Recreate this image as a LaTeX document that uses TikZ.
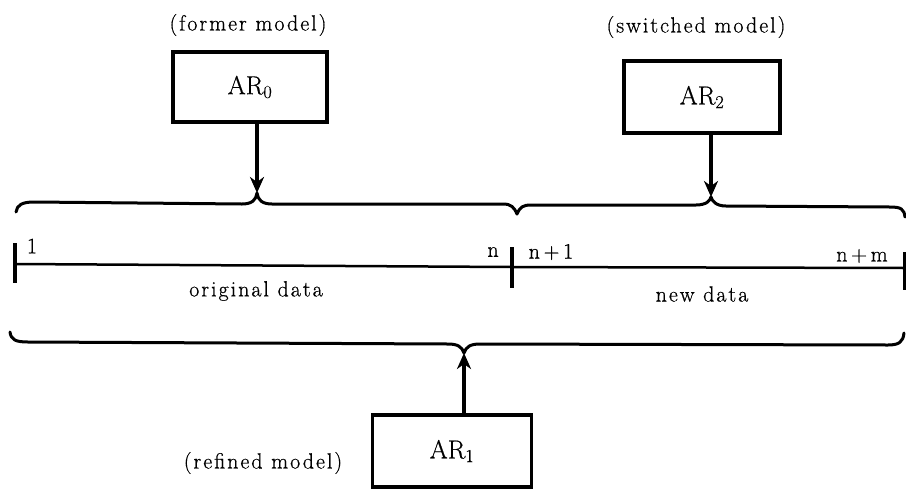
\documentclass[tikz,border=0pt]{standalone}
\usepackage{fontspec}
\usetikzlibrary{arrows.meta}
\newfontfamily\spacedfont[LetterSpace=9,FakeBold=0.6]{Latin Modern Roman}
\newfontfamily\boxfont[FakeBold=0.6]{Latin Modern Roman}
\begin{document}
\begin{tikzpicture}[x=1pt,y=-1pt,
  lbl/.style={font=\spacedfont\fontsize{22}{24}\selectfont, inner sep=0pt},
  arbox/.style={draw, line width=3.5pt, minimum width=154pt, minimum height=70pt, font=\boxfont\fontsize{26}{28}\selectfont, inner sep=0pt},
  brace/.style={line width=3pt, line cap=round, line join=round},
  feed/.style={line width=3.5pt, -{Stealth[length=16pt,width=14pt,inset=5pt]}},
  tick/.style={line width=3.5pt},
  dline/.style={line width=2.5pt}]
\useasboundingbox (0,0) rectangle (906,491);
% boxes
\node[arbox] (b0) at (250,87) {AR\textsubscript{0}};
\node[arbox, minimum width=156pt, minimum height=72pt] (b2) at (702,97) {AR\textsubscript{2}};
\node[arbox, minimum width=159pt, minimum height=72pt] (b1) at (452,451) {AR\textsubscript{1}};
% model labels
\node[lbl] (t0) at (248,25) {(former model)};
\node[lbl] (t2) at (696,27) {(switched model)};
\node[lbl] (t1) at (263,463) {(refined model)};
% brace tips
\coordinate (tip0) at (257,193);
\coordinate (tip2) at (711,197);
\coordinate (tip1) at (464,353);
% top brace
\draw[brace] (16,212) .. controls (17,205) and (22,202) .. (34,202)
  -- (242,204) .. controls (252,204) and (256,200) .. (tip0)
  .. controls (258,200) and (262,204) .. (272,204)
  -- (503,204) .. controls (511,204) and (514,207) .. (517,214)
  .. controls (520,207) and (523,205) .. (531,205)
  -- (696,205) .. controls (706,205) and (710,201) .. (tip2)
  .. controls (712,201) and (716,206) .. (726,206)
  -- (890,207) .. controls (901,207) and (904,209) .. (905,217);
% bottom brace
\draw[brace] (10,332) .. controls (11,340) and (16,342) .. (28,342)
  -- (448,344) .. controls (458,344) and (462,347) .. (tip1)
  .. controls (466,347) and (470,344) .. (480,344)
  -- (888,345) .. controls (899,345) and (903,342) .. (904,333);
% arrows
\draw[feed] (b0.south -| tip0) -- (tip0);
\draw[feed] (b2.south -| tip2) -- (tip2);
\draw[feed] (b1.north -| tip1) -- (tip1);
% data line
\coordinate (d0) at (15,264);
\coordinate (dm) at (512,267);
\coordinate (d1) at (905,268);
\draw[dline] (d0) -- (dm) -- (d1);
\draw[tick] (15,243) -- (15,283);
\draw[tick] (512,247) -- (512,288);
\draw[tick] (905,252) -- (905,290);
% data labels
\node[lbl] (n1) at (32,246) {1};
\node[lbl] (nn) at (493,252) {n};
\node[lbl] (nn1) at (551,252) {n\,+\,1};
\node[lbl] (nnm) at (862,256) {n\,+\,m};
\node[lbl] (od) at (256,291) {original data};
\node[lbl] (nd) at (702,294) {new data};
\end{tikzpicture}
\end{document}
